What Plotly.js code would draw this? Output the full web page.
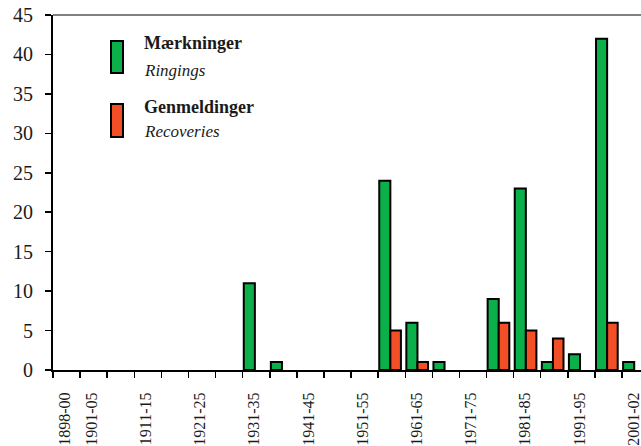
<!DOCTYPE html>
<html><head><meta charset="utf-8">
<script src="https://cdn.plot.ly/plotly-3.0.1.min.js"></script>
<style>html,body{margin:0;padding:0;overflow:hidden;background:#fff}</style>
</head><body><div id="chart" style="width:641px;height:446px"></div>
<script>
const periods = ['1898-00','1901-05','1906-10','1911-15','1916-20','1921-25','1926-30','1931-35','1936-40','1941-45','1946-50','1951-55','1956-60','1961-65','1966-70','1971-75','1976-80','1981-85','1986-90','1991-95','1996-00','2001-02'];
const tickLabels = ['1898-00','1901-05','','1911-15','','1921-25','','1931-35','','1941-45','','1951-55','','1961-65','','1971-75','','1981-85','','1991-95','','2001-02'];
const ringings = [null,null,null,null,null,null,null,11,1,null,null,null,24,6,1,null,9,23,1,2,42,1];
const recoveries = [null,null,null,null,null,null,null,null,null,null,null,null,5,1,null,null,6,5,4,null,6,null];
const seriesNames = ['Mærkninger','Genmeldinger'];
const seriesSubNames = ['Ringings','Recoveries'];
const seriesColors = ['#0BB04B','#F24F26'];

const W = 641, H = 446, mL = 53, mR = 0, mT = 15, mB = 76;
const pw = W - mL - mR, ph = H - mT - mB;
const px = x => (x - mL) / pw;
const py = y => (H - mB - y) / ph;

const serif = 'Liberation Serif';

const traces = [
  {type:'bar', x:periods, y:ringings, name:seriesNames[0], offset:-0.46, width:0.41,
   marker:{color:seriesColors[0], line:{color:'#000', width:2}}, showlegend:false, hoverinfo:'x+y'},
  {type:'bar', x:periods, y:recoveries, name:seriesNames[1], offset:-0.05, width:0.39,
   marker:{color:seriesColors[1], line:{color:'#000', width:2}}, showlegend:false, hoverinfo:'x+y'}
];

const swatches = [[41,73],[104,137]];
const shapes = [
  {type:'line', xref:'paper', yref:'paper', x0:0, x1:1, y0:1, y1:1, line:{color:'#808080', width:2}}
];
swatches.forEach((s,i)=>{
  shapes.push({type:'rect', xref:'paper', yref:'paper', x0:px(111), x1:px(123), y0:py(s[1]), y1:py(s[0]),
    fillcolor:seriesColors[i], line:{color:'#000', width:2}});
});
const titleY = [43,107], subY = [70,131];
const annotations = [];
seriesNames.forEach((n,i)=>{
  annotations.push({xref:'paper', yref:'paper', x:px(142), y:py(titleY[i]), xanchor:'left', yanchor:'middle',
    text:'<b>'+n+'</b>', showarrow:false, font:{family:serif, size:18, color:'#1a1a1a'}});
  annotations.push({xref:'paper', yref:'paper', x:px(142), y:py(subY[i]), xanchor:'left', yanchor:'middle',
    text:'<i>'+seriesSubNames[i]+'</i>', showarrow:false, font:{family:serif, size:17, color:'#1a1a1a'}});
});

const layout = {
  width:W, height:H,
  font:{family:serif, color:'#1a1a1a'},
  margin:{l:mL, r:mR, t:mT, b:mB},
  paper_bgcolor:'#fff', plot_bgcolor:'#fff',
  barmode:'overlay',
  showlegend:false,
  xaxis:{type:'category', categoryorder:'array', categoryarray:periods,
    range:[-0.5, 21.2], tickmode:'array', tickvals:periods, ticktext:tickLabels,
    tickson:'boundaries', ticks:'outside', ticklen:6, tickwidth:1.5, tickcolor:'#000',
    showline:true, linecolor:'#000', linewidth:2, showgrid:false, zeroline:false,
    tickangle:-90, ticklabelstandoff:14, ticklabelshift:-2,
    tickfont:{family:serif, size:16, color:'#1a1a1a'}},
  yaxis:{range:[0,45], tickmode:'array', tickvals:[0,5,10,15,20,25,30,35,40,45],
    ticks:'outside', ticklen:6, tickwidth:1.5, tickcolor:'#000',
    showline:true, linecolor:'#000', linewidth:2, showgrid:false, zeroline:false,
    ticklabelstandoff:8,
    tickfont:{family:serif, size:20, color:'#1a1a1a'}},
  shapes:shapes,
  annotations:annotations
};
Plotly.newPlot('chart', traces, layout, {displayModeBar:false, staticPlot:true});
</script></body></html>
